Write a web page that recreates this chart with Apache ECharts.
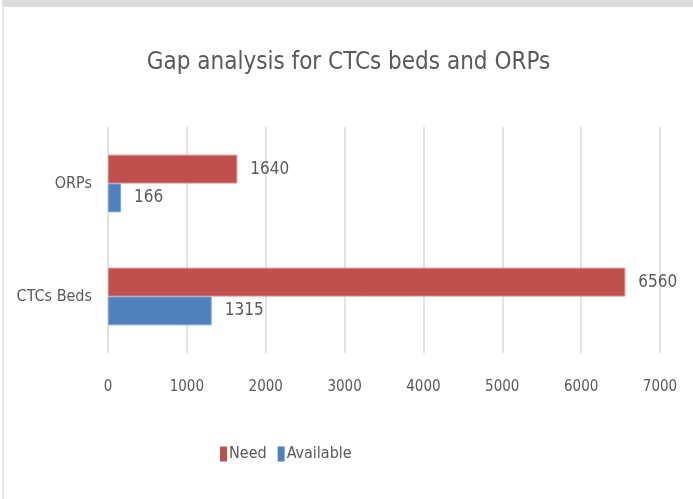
<!DOCTYPE html>
<html>
<head>
<meta charset="utf-8">
<script src="https://cdn.jsdelivr.net/npm/echarts@6/dist/echarts.min.js"></script>
<style>
  html, body { margin: 0; padding: 0; background: #fff; }
  #chart {
    width: 689px; height: 492px;
    border-top: 7px solid #dcdcdc;
    border-left: 2px solid #e6e6e6;
    margin-left: 2px;
  }
</style>
</head>
<body>
<div id="chart"></div>
<script>
// Данные
const categories = ['CTCs Beds', 'ORPs'];
const needValues = [6560, 1640];
const availableValues = [1315, 166];
const xTicks = [0, 1000, 2000, 3000, 4000, 5000, 6000, 7000];

const textFont = '"Liberation Sans Narrow", "DejaVu Sans Condensed", sans-serif';

document.addEventListener('DOMContentLoaded', function() {
  const chart = echarts.init(document.querySelector('#chart'));
  chart.setOption({
    animation: false,
    title: {
      text: 'Gap analysis for CTCs beds and ORPs',
      left: 'center',
      top: 39,
      textStyle: { color: '#595959', fontSize: 24, fontWeight: 'normal', fontFamily: textFont }
    },
    legend: {
      bottom: 32,
      left: 211,
      icon: 'rect',
      itemWidth: 7,
      itemHeight: 15,
      itemGap: 11,
      itemStyle: { borderWidth: 0 },
      data: ['Need', 'Available'],
      textStyle: { color: '#595959', fontSize: 16, fontFamily: textFont, padding: [0, 0, 0, -3] }
    },
    grid: { left: 104, right: 33, top: 120, bottom: 146 },
    xAxis: {
      type: 'value',
      min: xTicks[0],
      max: xTicks[xTicks.length - 1],
      interval: 1000,
      axisLine: { show: false },
      axisTick: { show: false },
      axisLabel: {
        color: '#595959', fontSize: 15, margin: 27, fontFamily: textFont,
        formatter: function(v) { return String(v); }
      },
      splitLine: { lineStyle: { color: '#d9d9d9', width: 1.5 } }
    },
    yAxis: {
      type: 'category',
      data: categories,
      axisLine: { show: false },
      axisTick: { show: false },
      axisLabel: { color: '#595959', fontSize: 16, margin: 16, fontFamily: textFont }
    },
    series: [
      {
        name: 'Need',
        type: 'bar',
        data: needValues,
        barGap: '0%',
        barCategoryGap: '49%',
        itemStyle: { color: '#C0504D', borderColor: '#D98280', borderWidth: 1 },
        label: { show: true, position: 'right', distance: 13, color: '#595959', fontSize: 17, fontFamily: textFont }
      },
      {
        name: 'Available',
        type: 'bar',
        data: availableValues,
        barGap: '0%',
        barCategoryGap: '49%',
        itemStyle: { color: '#4F81BD', borderColor: '#7FA3D4', borderWidth: 1 },
        label: { show: true, position: 'right', distance: 13, color: '#595959', fontSize: 17, fontFamily: textFont }
      }
    ]
  });
});
</script>
</body>
</html>
